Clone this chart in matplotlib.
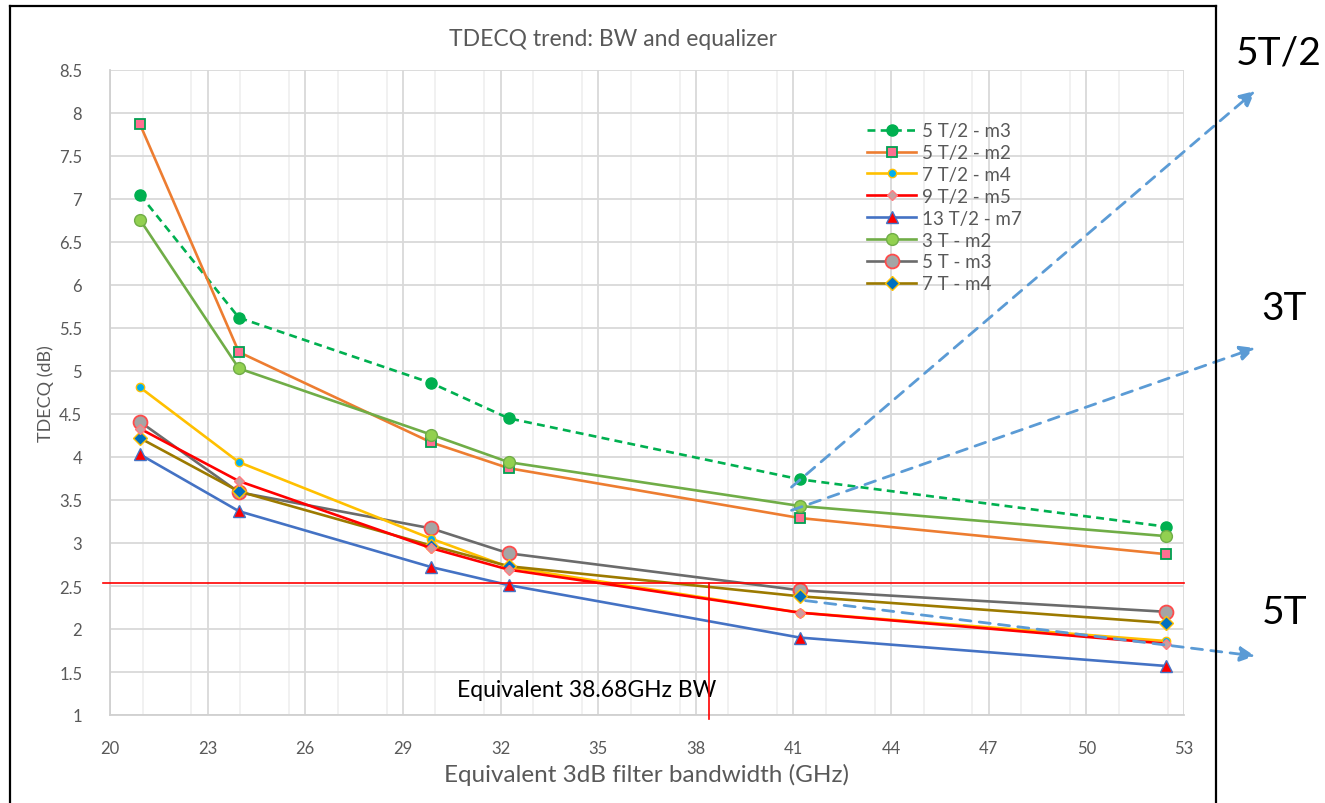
import matplotlib
matplotlib.use("Agg")
import matplotlib.pyplot as plt
from matplotlib.lines import Line2D
from matplotlib.ticker import MultipleLocator

plt.rcParams['font.family'] = ['Lato', 'DejaVu Sans']

# ---------------- data ----------------
bandwidth_ghz = [20.92, 23.96, 29.87, 32.25, 41.2, 52.45]

s_5T2_m3 = [7.05, 5.62, 4.86, 4.45, 3.74, 3.19]
s_5T2_m2 = [7.87, 5.22, 4.17, 3.87, 3.29, 2.87]
s_7T2_m4 = [4.81, 3.94, 3.05, 2.72, 2.19, 1.86]
s_9T2_m5 = [4.33, 3.72, 2.94, 2.69, 2.19, 1.83]
s_13T2_m7 = [4.03, 3.37, 2.72, 2.51, 1.90, 1.57]
s_3T_m2 = [6.76, 5.03, 4.26, 3.94, 3.43, 3.08]
s_5T_m3 = [4.41, 3.59, 3.17, 2.88, 2.45, 2.20]
s_7T_m4 = [4.22, 3.60, 2.97, 2.73, 2.38, 2.07]

series_labels = ["5 T/2 - m3", "5 T/2 - m2", "7 T/2 - m4", "9 T/2 - m5",
                 "13 T/2 - m7", "3 T - m2", "5 T - m3", "7 T - m4"]

threshold_db = 2.53
equiv_bw_line = 38.4
equiv_label = "Equivalent 38.68GHz BW"

x_ticks = [20, 23, 26, 29, 32, 35, 38, 41, 44, 47, 50, 53]
y_ticks = [1, 1.5, 2, 2.5, 3, 3.5, 4, 4.5, 5, 5.5, 6, 6.5, 7, 7.5, 8, 8.5]

# ---------------- figure ----------------
fig = plt.figure(figsize=(13.25, 8.04), dpi=100)
ax = fig.add_axes([110 / 1325, 1 - 716 / 804, 1074 / 1325, 645 / 804])

ax.set_xlim(20, 53)
ax.set_ylim(1, 8.5)
ax.set_xticks(x_ticks)
ax.set_yticks(y_ticks)
ax.set_xticklabels([str(v) for v in x_ticks])
ax.set_yticklabels([("%g" % v) for v in y_ticks])
ax.xaxis.set_minor_locator(MultipleLocator(1.5))
ax.grid(True, which='major', color='#D9D9D9', lw=1.3, zorder=0)
ax.grid(True, which='minor', axis='x', color='#EEEEEE', lw=1.1, zorder=0)
ax.set_axisbelow(True)
for sp in ['top', 'right']:
    ax.spines[sp].set_visible(False)
for sp in ['left', 'bottom']:
    ax.spines[sp].set_color('#D0D0D0')
    ax.spines[sp].set_linewidth(1.3)
ax.tick_params(which='both', length=0, colors='#595959', labelsize=12)
ax.tick_params(axis='x', pad=18)
ax.tick_params(axis='y', pad=20)

lw = 1.9
styles = [
    dict(color='#00B050', ls=(0, (3, 2)), marker='o', ms=8, mfc='#00B050', mec='#00B050'),
    dict(color='#ED7D31', ls='-', marker='s', ms=7.5, mfc='#FF6F91', mec='#00A050', mew=1.3),
    dict(color='#FFC000', ls='-', marker='o', ms=6, mfc='#00B0F0', mec='#FFC000', mew=1.0),
    dict(color='#FF0000', ls='-', marker='D', ms=5, mfc='#C9A0A0', mec='#FF7C80', mew=1.0),
    dict(color='#4472C4', ls='-', marker='^', ms=9, mfc='#FF0000', mec='#4472C4', mew=1.0),
    dict(color='#70AD47', ls='-', marker='o', ms=8.5, mfc='#92D050', mec='#70AD47', mew=1.0),
    dict(color='#6B6B6B', ls='-', marker='o', ms=10, mfc='#A5A5A5', mec='#FF4B4B', mew=1.3),
    dict(color='#9C7A00', ls='-', marker='D', ms=7, mfc='#0070C0', mec='#FFC000', mew=1.0),
]
all_series = [s_5T2_m3, s_5T2_m2, s_7T2_m4, s_9T2_m5, s_13T2_m7, s_3T_m2, s_5T_m3, s_7T_m4]
z_order = [3, 3, 4, 5, 6, 3, 3, 4]
for vals, lab, st, z in zip(all_series, series_labels, styles, z_order):
    ax.plot(bandwidth_ghz, vals, label=lab, lw=lw, zorder=z, **st)

leg = ax.legend(loc='upper left', bbox_to_anchor=(0.705, 0.919), frameon=False,
                fontsize=13.5, handlelength=2.6, labelspacing=0.26,
                handletextpad=0.35, borderaxespad=0, borderpad=0)
for t in leg.get_texts():
    t.set_color('#595959')

# red reference lines
ax.plot([19.8, 53], [threshold_db, threshold_db], color='#FF0000', lw=1.2,
        clip_on=False, zorder=7)
ax.plot([equiv_bw_line, equiv_bw_line], [threshold_db, 0.95], color='#FF0000',
        lw=1.2, clip_on=False, zorder=7)
ax.text(30.65, 1.3, equiv_label, fontsize=16.5, color='black', va='center', ha='left')

ax.set_title("TDECQ trend: BW and equalizer", color='#595959', fontsize=16.5, pad=18,
             x=0.468)
ax.set_xlabel("Equivalent 3dB filter bandwidth (GHz)", color='#595959', fontsize=17.5,
              labelpad=5)
ax.set_ylabel("TDECQ (dB)", color='#595959', fontsize=13, labelpad=4)

# dashed annotation arrows
arrow_props = dict(arrowstyle='-|>,head_length=0.9,head_width=0.45', color='#5B9BD5',
                   lw=2, ls=(0, (4, 3)), shrinkA=0, shrinkB=0)
arrows = [
    ((40.94, 3.65), (1255 / 1325, 1 - 92 / 804), "5T/2", (1236 / 1325, 1 - 53 / 804)),
    ((40.94, 3.38), (1255 / 1325, 1 - 349 / 804), "3T", (1261 / 1325, 1 - 309 / 804)),
    ((41.37, 2.33), (1255 / 1325, 1 - 657 / 804), "5T", (1262 / 1325, 1 - 613 / 804)),
]
for start, end, lab, lpos in arrows:
    ax.annotate("", xy=end, xycoords='figure fraction', xytext=start,
                textcoords='data', arrowprops=arrow_props, annotation_clip=False,
                zorder=8)
    fig.text(lpos[0], lpos[1], lab, fontsize=28, color='black', va='center', ha='left')

# outer frame
L, T, R = 10 / 1325, 1 - 7 / 804, 1216 / 1325
fig.add_artist(Line2D([L, L], [0, T], color='black', lw=1.6, transform=fig.transFigure))
fig.add_artist(Line2D([L, R], [T, T], color='black', lw=1.6, transform=fig.transFigure))
fig.add_artist(Line2D([R, R], [T, 0], color='black', lw=1.6, transform=fig.transFigure))

fig.savefig("out.png", dpi=100)
